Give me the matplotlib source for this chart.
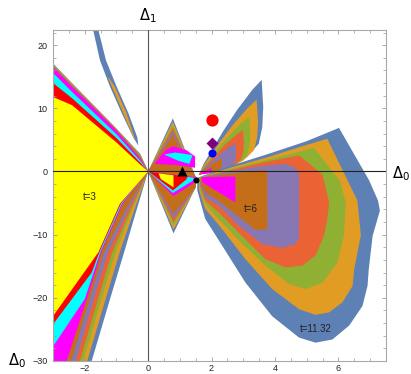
import matplotlib
matplotlib.use("Agg")
from matplotlib import pyplot as plt
from matplotlib.patches import Polygon
from matplotlib.ticker import MultipleLocator

# colours of the nested regions, outermost level (t=11.32) first, innermost (t=3) last
level_colors = ['#5E81B5', '#E19C24', '#8FB032', '#EB6235', '#8778B3', '#C56E1A',
                '#FF00FF', '#00FFFF', '#FF0000', '#FFFF00']

# left wedge, upper boundary: y of every level at these x values
wedge_up_x = [-3.0, -2.4, -1.0, -0.25, 0.0]
wedge_up_y = [
    [17.1, 14.0, 6.8, 2.8, 0],
    [17.0, 13.9, 6.75, 2.7, 0],
    [16.9, 13.8, 6.7, 2.6, 0],
    [16.8, 13.7, 6.65, 2.5, 0],
    [16.7, 13.6, 6.6, 2.4, 0],
    [16.6, 13.5, 6.55, 2.3, 0],
    [16.5, 13.4, 6.5, 2.0, 0],
    [15.6, 12.6, 5.9, 1.7, 0],
    [14.0, 11.6, 5.3, 1.4, 0],
    [11.8, 10.5, 4.6, 1.1, 0],
]
# left wedge, lower boundary of every level, starting at the origin
wedge_low = [
    [(0, 0), (-0.36, -6), (-0.77, -13), (-1.19, -20), (-1.78, -30), (-2.02, -34)],
    [(0, 0), (-0.43, -6), (-0.91, -13), (-1.33, -20), (-1.92, -30), (-2.16, -34)],
    [(0, 0), (-0.50, -6), (-1.04, -13), (-1.46, -20), (-2.05, -30), (-2.29, -34)],
    [(0, 0), (-0.55, -6), (-1.15, -13), (-1.57, -20), (-2.15, -30), (-2.39, -34)],
    [(0, 0), (-0.62, -6), (-1.28, -13), (-1.70, -20), (-2.28, -30), (-2.52, -34)],
    [(0, 0), (-0.70, -6), (-1.41, -13), (-1.83, -20), (-2.42, -30), (-2.66, -34)],
    [(0, 0), (-0.80, -5.1), (-1.48, -12.8), (-1.63, -15.4), (-1.93, -20.2), (-2.57, -30), (-2.8, -34)],
    [(0, 0), (-0.83, -5.1), (-1.51, -12.8), (-1.68, -15.4), (-2.0, -20.2), (-3.0, -27.7), (-3.5, -31.2)],
    [(0, 0), (-0.86, -5.1), (-1.54, -12.8), (-1.78, -16.0), (-3.0, -24.2), (-3.5, -27.5)],
    [(0, 0), (-0.89, -5.1), (-1.57, -12.8), (-3.0, -22.9), (-3.5, -26.4)],
]

# thin leaf in the upper left
leaf_blue = [(-1.76, 23.0), (-1.52, 17.6), (-1.20, 13.4), (-0.83, 9.2), (-0.47, 5.4), (-0.31, 4.1),
             (-0.34, 5.4), (-0.62, 9.2), (-0.99, 13.4), (-1.33, 17.6), (-1.60, 23.0)]
leaf_orange = [(-1.28, 15.0), (-1.14, 13.4), (-0.78, 9.2), (-0.45, 5.2), (-0.40, 4.9),
               (-0.68, 9.2), (-1.05, 13.4), (-1.22, 14.7)]

# bow tie between 0 and 1.5: peak / tip heights of the six outer levels
bowtie_x = 0.78
bowtie_peaks = [8.4, 7.9, 7.4, 6.9, 6.4, 5.8]
bowtie_tips = [-9.8, -9.2, -8.6, -8.0, -7.4, -6.7]
bowtie_inner = [
    ('#FF00FF', [(0.2, 1.2), (0.55, 3.4), (0.78, 4.0), (1.2, 3.4), (1.48, 2.4), (1.48, 0.6), (0.9, 1.0)]),
    ('#00FFFF', [(0.5, 2.7), (0.85, 3.0), (1.4, 2.6), (1.3, 1.2), (0.95, 1.7)]),
    ('#FF00FF', [(0, 0), (1.52, -0.9), (1.52, -1.6), (0.8, -3.9)]),
    ('#00FFFF', [(0, 0), (1.45, -1.0), (1.4, -1.5), (0.78, -3.4)]),
    ('#FF0000', [(0.03, -0.05), (1.25, -0.8), (1.2, -1.3), (0.78, -3.0)]),
    ('#FFFF00', [(0.33, -0.3), (0.8, -0.6), (0.8, -2.5), (0.4, -1.2)]),
]

# upright petal: outline of the outer level and scale of each inner level about its base
petal_base = (1.6, -0.5)
petal_outline = [(1.6, -0.5), (1.75, 1.2), (2.07, 3.9), (2.38, 6.5), (2.8, 9.7), (3.28, 12.9),
                 (3.58, 14.5), (3.63, 10.2), (3.6, 7.0), (3.49, 4.4), (3.12, 2.3),
                 (2.59, 0.95), (2.07, 0.4)]
petal_scales = [(1, 1), (0.92, 0.79), (0.8, 0.61), (0.7, 0.47), (0.58, 0.33), (0.36, 0.17), (0.2, 0.07)]

# large lower right wing, one outline per level
wing = [
    [(1.55, -1.0), (2.6, 0.9), (3.8, 2.8), (5.0, 4.8), (6.02, 6.9), (6.97, -1.4), (7.25, -4.6),
     (7.31, -6.2), (7.08, -10.2), (6.96, -15.4), (6.92, -18.1), (6.76, -21.3), (6.34, -24.4),
     (5.81, -26.6), (5.28, -27.1), (4.76, -26.3), (3.91, -22.9), (3.07, -17.6), (2.33, -11.7),
     (1.8, -7.5), (1.55, -3.0)],
    [(1.6, -1.0), (2.6, 0.6), (3.8, 2.3), (4.8, 3.9), (5.65, 5.19), (6.6, -4.6), (6.71, -10.1),
     (6.5, -15.4), (6.45, -18.1), (6.13, -20.7), (5.71, -22.3), (5.28, -22.7), (4.76, -21.8),
     (3.91, -18.6), (3.07, -13.9), (2.33, -9.1), (1.8, -5.9), (1.6, -2.8)],
    [(1.62, -1.0), (2.6, 0.4), (3.8, 1.9), (4.6, 2.9), (5.23, 3.76), (6.05, -1.5), (6.23, -4.9),
     (6.18, -10.1), (5.97, -14.4), (5.5, -17.6), (4.97, -18.6), (4.44, -17.8), (3.7, -14.9),
     (2.86, -10.9), (2.12, -7.0), (1.8, -5.1), (1.62, -2.6)],
    [(1.64, -1.0), (2.6, 0.2), (3.6, 1.4), (4.3, 2.1), (4.76, 2.54), (5.5, -0.5), (5.71, -4.9),
     (5.65, -7.5), (5.55, -10.1), (5.28, -13.3), (4.86, -14.9), (4.34, -15.2), (3.7, -13.9),
     (2.96, -10.2), (2.23, -6.5), (1.8, -4.6), (1.64, -2.4)],
    [(1.66, -1.0), (2.6, 0.0), (3.5, 0.8), (4.34, 1.22), (4.65, 0.6), (4.76, -0.5), (4.76, -10.5),
     (4.65, -11.5), (4.23, -12.1), (3.6, -11.5), (2.86, -8.6), (2.23, -5.4), (1.8, -4.1), (1.66, -2.2)],
    [(1.68, -1.0), (2.5, -0.4), (3.3, 0.1), (3.65, 0.25), (3.76, 0.0), (3.76, -9.1), (3.4, -9.3),
     (2.86, -7.2), (2.2, -4.6), (1.8, -3.3), (1.68, -2.0)],
    [(1.7, -0.9), (2.75, -0.8), (2.75, -4.9), (1.7, -1.7)],
]

# special points
pt_triangle = (1.06, 0.0)
pt_black = (1.52, -1.27)
pt_red = (2.0, 8.2)
pt_diamond = (2.0, 4.55)
pt_blue = (2.0, 2.95)

labels = [('t=3', -1.84, -4.1), ('t=6', 3.23, -6.0), ('t=11.32', 5.28, -24.9)]


def add_poly(ax, pts, color, z=1):
    ax.add_patch(Polygon(pts, closed=True, facecolor=color, edgecolor='none', lw=0, zorder=z))


plt.rcParams['font.family'] = ['Liberation Sans', 'DejaVu Sans']
plt.rcParams['mathtext.fontset'] = 'dejavusans'

fig = plt.figure(figsize=(4.11, 3.74), dpi=100)
ax = fig.add_axes([0.129, 0.0348, 0.81, 0.885])

# left wedge, outer level first so that inner ones sit on top
for col, up_y, low in zip(level_colors, wedge_up_y, wedge_low):
    pts = [(-3.6, up_y[0] + 3)] + list(zip(wedge_up_x, up_y)) + low[1:] + [(-3.6, -40)]
    add_poly(ax, pts, col)

add_poly(ax, leaf_blue, level_colors[0])
add_poly(ax, leaf_orange, level_colors[1])

for col, pk, tp in zip(level_colors, bowtie_peaks, bowtie_tips):
    add_poly(ax, [(0, 0), (bowtie_x, pk), (1.5, -0.9)], col)
    add_poly(ax, [(0, 0), (1.52, -0.9), (1.5, -2.5), (bowtie_x + 0.02, tp)], col)
for col, pts in bowtie_inner:
    add_poly(ax, pts, col)

bx, by = petal_base
for col, (sx, sy) in zip(level_colors, petal_scales):
    pts = [(bx + sx * (x - bx), by + sy * (y - by)) for x, y in petal_outline]
    add_poly(ax, pts, col)

for col, pts in zip(level_colors, wing):
    add_poly(ax, pts, col)

ax.axhline(0, color='#222222', lw=0.8, zorder=3)
ax.axvline(0, color='#555555', lw=0.8, zorder=3)

ax.plot(*pt_red, 'o', color='#FF0000', ms=8.8, mec='none', zorder=4)
ax.plot(*pt_diamond, 'D', color='#800080', ms=6.5, mec='none', zorder=4)
ax.plot(*pt_blue, 'o', color='#0000FF', ms=5.8, mec='none', zorder=4)
ax.plot(*pt_triangle, '^', color='black', ms=7, mec='none', zorder=4)
ax.plot(*pt_black, 'o', color='black', ms=4.3, mec='none', zorder=4)

for txt, x, y in labels:
    ax.text(x, y, txt, fontsize=7, ha='center', va='center', color='#222222', zorder=5)

ax.set_xlim(-3, 7.5)
ax.set_ylim(-30, 22.4)
ax.set_xticks([-2, 0, 2, 4, 6])
ax.set_yticks([-30, -20, -10, 0, 10, 20])
ax.xaxis.set_minor_locator(MultipleLocator(0.5))
ax.yaxis.set_minor_locator(MultipleLocator(2))
ax.tick_params(which='both', direction='in', top=True, right=True, color='#999999',
               labelsize=6.5, labelcolor='#222222')
ax.tick_params(which='major', length=3, width=0.6)
ax.tick_params(which='minor', length=2, width=0.5)
ax.tick_params(axis='x', pad=2)
ax.tick_params(axis='y', pad=4)
for sp in ax.spines.values():
    sp.set_color('#aaaaaa')
    sp.set_linewidth(0.8)

fig.text(0.360, 0.958, r'$\Delta_1$', fontsize=10.5, ha='center', va='center')
fig.text(0.976, 0.535, r'$\Delta_0$', fontsize=10.5, ha='center', va='center')
fig.text(0.042, 0.037, r'$\Delta_0$', fontsize=10.5, ha='center', va='center')

fig.savefig('out.png', dpi=100)
